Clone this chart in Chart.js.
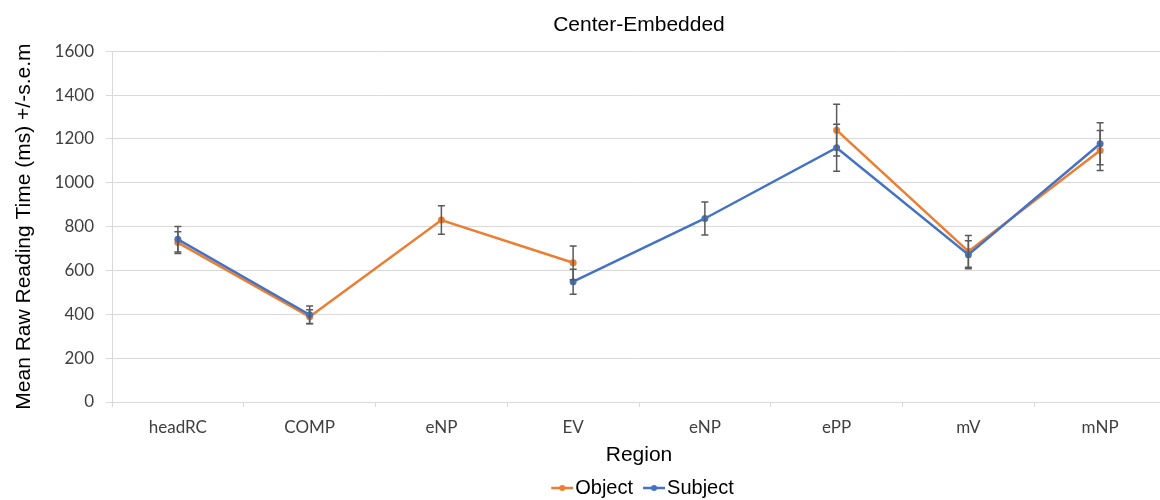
<!DOCTYPE html>
<html>
<head>
<meta charset="utf-8">
<script src="https://cdn.jsdelivr.net/npm/chart.js@4"></script>
<style>
    body { margin: 0; overflow: hidden; background: #fff; }
    #wrap { width: 1170px; height: 500px; }
</style>
</head>
<body>
<div id="wrap"><canvas id="grafico"></canvas></div>
<script>
// Regiones y tiempos medios de lectura (ms) con su error estandar
let regiones = ["headRC", "COMP", "eNP", "EV", "eNP", "ePP", "mV", "mNP"];
let objeto = [727, 389, 830, 635, null, 1240, 687, 1147];
let objetoSem = [50, 32, 65, 77, null, 118, 72, 91];
let sujeto = [742, 398, null, 549, 837, 1160, 672, 1178];
let sujetoSem = [58, 40, null, 57, 75, 107, 64, 96];
let ticksY = [0, 200, 400, 600, 800, 1000, 1200, 1400, 1600];

const NARANJA = "#ED7D31";
const AZUL = "#4472C4";

// Marcador de la leyenda: linea corta con punto al centro
function marcador(color) {
    let c = document.createElement("canvas");
    c.width = 37;
    c.height = 10;
    let g = c.getContext("2d");
    g.strokeStyle = color;
    g.lineWidth = 2.5;
    g.beginPath();
    g.moveTo(15, 5);
    g.lineTo(37, 5);
    g.stroke();
    g.fillStyle = color;
    g.beginPath();
    g.arc(26, 5, 3, 0, Math.PI * 2);
    g.fill();
    return c;
}

// Barras de error (+/- s.e.m) dibujadas sobre las lineas
const barrasError = {
    id: "barrasError",
    afterDatasetsDraw(chart) {
        let ctx = chart.ctx;
        let y = chart.scales.y;
        ctx.save();
        ctx.strokeStyle = "#5a5a5a";
        ctx.lineWidth = 1.5;
        chart.data.datasets.forEach(function (ds, i) {
            let meta = chart.getDatasetMeta(i);
            ds.data.forEach(function (v, j) {
                let sem = ds.sem[j];
                if (v === null || sem === null) return;
                let x = meta.data[j].x;
                let arriba = y.getPixelForValue(v + sem);
                let abajo = y.getPixelForValue(v - sem);
                ctx.beginPath();
                ctx.moveTo(x, arriba);
                ctx.lineTo(x, abajo);
                ctx.moveTo(x - 3.5, arriba);
                ctx.lineTo(x + 3.5, arriba);
                ctx.moveTo(x - 3.5, abajo);
                ctx.lineTo(x + 3.5, abajo);
                ctx.stroke();
            });
        });
        ctx.restore();
    }
};

let ctx = document.getElementById("grafico").getContext("2d");

let grafico = new Chart(ctx, {
    type: "line",
    data: {
        labels: regiones,
        datasets: [{
            label: "Object",
            data: objeto,
            sem: objetoSem,
            borderColor: NARANJA,
            backgroundColor: NARANJA,
            order: 1
        }, {
            label: "Subject",
            data: sujeto,
            sem: sujetoSem,
            borderColor: AZUL,
            backgroundColor: AZUL,
            order: 0
        }]
    },
    options: {
        responsive: true,
        maintainAspectRatio: false,
        animation: false,
        spanGaps: false,
        layout: { padding: { top: 0, left: 0, right: 0, bottom: -8 } },
        elements: {
            line: { borderWidth: 2.5, tension: 0 },
            point: { radius: 3.5, borderWidth: 0 }
        },
        plugins: {
            tooltip: { enabled: false },
            title: {
                display: true,
                text: "Center-Embedded",
                fullSize: false,
                color: "#000",
                font: { family: "Liberation Sans", size: 21, weight: "normal" },
                padding: { top: 13, bottom: 13 }
            },
            legend: {
                position: "bottom",
                fullSize: false,
                labels: {
                    usePointStyle: true,
                    pointStyleWidth: 21,
                    padding: 3,
                    color: "#1a1a1a",
                    font: { family: "Liberation Sans", size: 20 },
                    generateLabels(chart) {
                        return chart.data.datasets.map(function (ds, i) {
                            return {
                                text: ds.label,
                                pointStyle: marcador(ds.borderColor),
                                fillStyle: ds.borderColor,
                                strokeStyle: ds.borderColor,
                                lineWidth: 0,
                                hidden: false,
                                datasetIndex: i
                            };
                        });
                    }
                }
            }
        },
        scales: {
            x: {
                offset: true,
                grid: {
                    offset: true,
                    drawOnChartArea: false,
                    drawTicks: true,
                    tickLength: 5,
                    color: "#d9d9d9"
                },
                border: { color: "#d9d9d9" },
                ticks: {
                    padding: 10,
                    color: "#404040",
                    font: { family: "Lato", size: 17 }
                },
                title: {
                    display: true,
                    text: "Region",
                    color: "#000",
                    font: { family: "Liberation Sans", size: 21 },
                    padding: { top: 0, bottom: 7 }
                },
                afterFit(scale) { scale.height = 73; }
            },
            y: {
                min: 0,
                max: 1600,
                afterBuildTicks(scale) {
                    scale.ticks = ticksY.map(v => ({ value: v }));
                },
                grid: {
                    color: "#d9d9d9",
                    tickLength: 6
                },
                border: { color: "#d9d9d9" },
                ticks: {
                    padding: 12,
                    color: "#404040",
                    font: { family: "Lato", size: 17 },
                    callback: v => String(v)
                },
                title: {
                    display: true,
                    text: "Mean Raw Reading Time (ms) +/-s.e.m",
                    color: "#000",
                    font: { family: "Liberation Sans", size: 21 },
                    padding: { top: 12, bottom: 0 }
                },
                afterFit(scale) { scale.width = 112; }
            }
        }
    },
    plugins: [barrasError]
});
</script>
</body>
</html>
